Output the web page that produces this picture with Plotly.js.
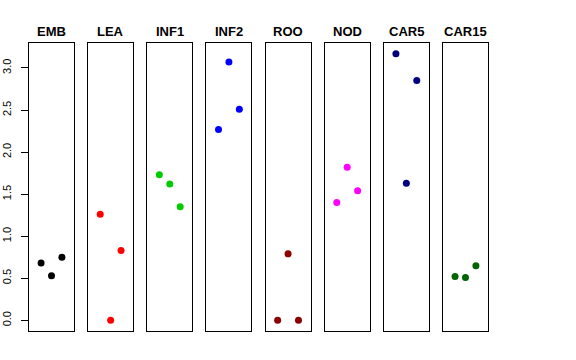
<!DOCTYPE html>
<html>
<head>
<meta charset="utf-8">
<script src="https://cdn.plot.ly/plotly-3.0.1.min.js"></script>
<style>html,body{margin:0;padding:0;background:#fff;}#chart{width:576px;height:360px;}</style>
</head>
<body>
<div id="chart"></div>
<script>
var categories = ["EMB", "LEA", "INF1", "INF2", "ROO", "NOD", "CAR5", "CAR15"];
var positions = [1, 2, 3];
var EMB   = [0.68, 0.53, 0.75];
var LEA   = [1.26, 0.00, 0.83];
var INF1  = [1.73, 1.62, 1.35];
var INF2  = [2.27, 3.07, 2.51];
var ROO   = [0.00, 0.79, 0.00];
var NOD   = [1.40, 1.82, 1.54];
var CAR5  = [3.17, 1.63, 2.85];
var CAR15 = [0.52, 0.51, 0.65];
var seriesValues = [EMB, LEA, INF1, INF2, ROO, NOD, CAR5, CAR15];
var colors = ["#000000", "#FF0000", "#00CD00", "#0000FF", "#8B0000", "#FF00FF", "#000080", "#006400"];
var yTickVals = [0, 0.5, 1, 1.5, 2, 2.5, 3];
var yTickText = ["0.0", "0.5", "1.0", "1.5", "2.0", "2.5", "3.0"];

var W = 576, H = 360;
var L = 29, R = 88, T = 43, B = 29;
var plotW = W - L - R;
var step = 59.14, panelW = 45;
var yRange = [-0.127, 3.297];

var data = [];
var layout = {
  width: W, height: H,
  margin: {l: L, r: R, t: T, b: B, pad: 0},
  paper_bgcolor: "#fff", plot_bgcolor: "#fff",
  showlegend: false,
  font: {family: "Liberation Sans, Arial, Helvetica, sans-serif", color: "#000"},
  annotations: []
};

categories.forEach(function (cat, i) {
  var sfx = i === 0 ? "" : String(i + 1);
  var x0 = (i * step) / plotW;
  var x1 = Math.min((i * step + panelW) / plotW, 1);
  layout["xaxis" + sfx] = {
    domain: [x0, x1],
    range: [-0.16, 4.16],
    showticklabels: false, ticks: "",
    showgrid: false, zeroline: false,
    showline: true, mirror: true, linecolor: "#000", linewidth: 1,
    anchor: "y" + sfx, fixedrange: true
  };
  var yax = {
    range: yRange,
    showgrid: false, zeroline: false,
    showline: true, mirror: true, linecolor: "#000", linewidth: 1,
    anchor: "x" + sfx, fixedrange: true
  };
  if (i === 0) {
    yax.tickvals = yTickVals;
    yax.ticktext = yTickText;
    yax.tickangle = -90;
    yax.ticks = "outside";
    yax.ticklen = 7; yax.tickwidth = 1; yax.tickcolor = "#000";
    yax.ticklabelstandoff = 6;
    yax.tickfont = {size: 11, color: "#000"};
  } else {
    yax.showticklabels = false;
    yax.ticks = "";
    yax.matches = "y";
  }
  layout["yaxis" + sfx] = yax;
  data.push({
    type: "scatter", mode: "markers",
    x: positions, y: seriesValues[i],
    xaxis: "x" + sfx, yaxis: "y" + sfx,
    marker: {color: colors[i], size: 7, line: {width: 0}},
    cliponaxis: false,
    hoverinfo: "skip"
  });
  layout.annotations.push({
    text: "<b>" + cat + "</b>",
    xref: "paper", yref: "paper",
    x: (x0 + x1) / 2, y: 1,
    xanchor: "center", yanchor: "middle",
    yshift: 12,
    showarrow: false,
    font: {size: 13, color: "#000"}
  });
});

Plotly.newPlot("chart", data, layout, {staticPlot: true, displayModeBar: false});
</script>
</body>
</html>
